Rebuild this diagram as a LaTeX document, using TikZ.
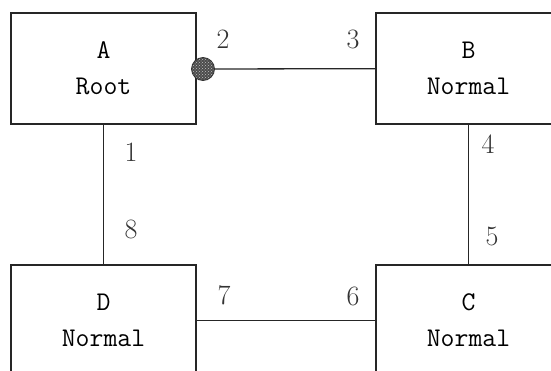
\documentclass[tikz,border=0pt]{standalone}
\usepackage{fontspec}
\usetikzlibrary{patterns}
\begin{document}
\begin{tikzpicture}[x=1pt,y=-1pt,
  box/.style={draw=black!85, line width=1.3pt, minimum width=185pt, minimum height=111pt,
    inner sep=0pt, align=center, font=\fontsize{27}{36}\ttfamily, fill=white},
  link/.style={draw=black!85, line width=1.3pt},
  num/.style={font=\fontsize{28}{30}\rmfamily, text=black!80, inner sep=0pt},
  port/.style={circle, draw=black!80, line width=0.8pt, minimum size=23pt, inner sep=0pt,
    preaction={fill=black!70}, pattern=crosshatch dots, pattern color=white!75!black}]
\useasboundingbox (0,0) rectangle (551,370);
\clip (0,0) rectangle (551,370);
\node[box] (A) at (103.5,68.5) {A\\Root};
\node[box] (B) at (468.5,68.5) {B\\Normal};
\node[box] (D) at (103.5,320.5) {D\\Normal};
\node[box] (C) at (468.5,320.5) {C\\Normal};
\node[port] (P) at (203,69) {};
\draw[link] (P) -- (B);
\draw[link] (A) -- (D);
\draw[link] (B) -- (C);
\draw[link] (D) -- (C);
\node[num] (n2) at (223,39) {2};
\node[num] (n3) at (353,39) {3};
\node[num] (n1) at (131,152) {1};
\node[num] (n8) at (131,229) {8};
\node[num] (n4) at (488,144) {4};
\node[num] (n5) at (492,236) {5};
\node[num] (n7) at (224,295) {7};
\node[num] (n6) at (353,296) {6};
\end{tikzpicture}
\end{document}
